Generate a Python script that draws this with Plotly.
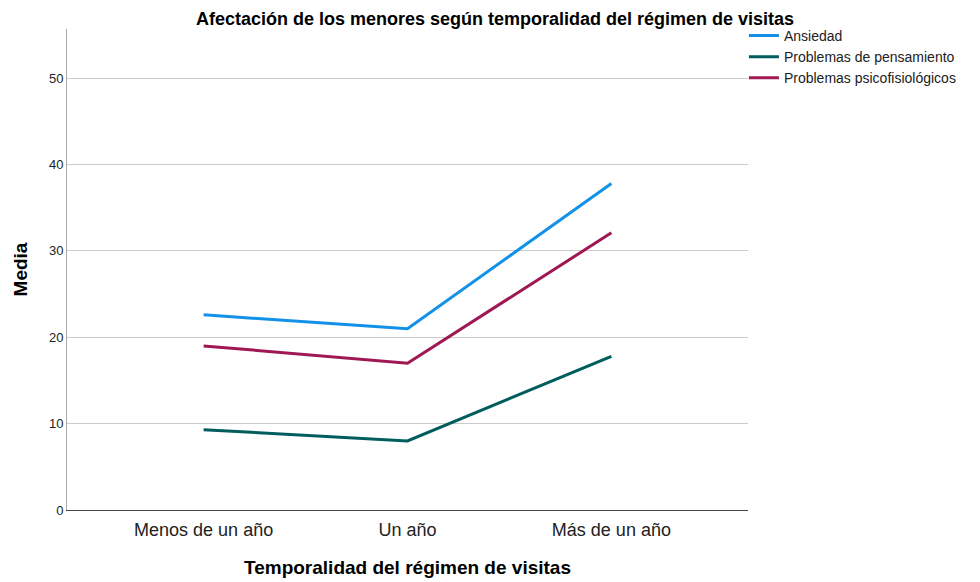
import plotly.graph_objects as go

categories = ["Menos de un año", "Un año", "Más de un año"]
ansiedad = [22.6, 21.0, 37.8]
pensamiento = [9.3, 8.0, 17.8]
psicofisiologicos = [19.0, 17.0, 32.1]
series_names = ["Ansiedad", "Problemas de pensamiento", "Problemas psicofisiológicos"]
series_colors = ["#1192e8", "#005d5d", "#9f1853"]
y_ticks = [0, 10, 20, 30, 40, 50]

FONT = "Liberation Sans, Arial, sans-serif"

fig = go.Figure()
for name, vals, col in zip(series_names, [ansiedad, pensamiento, psicofisiologicos], series_colors):
    fig.add_trace(go.Scatter(
        x=[0, 1, 2], y=vals, mode="lines", name=name,
        line=dict(color=col, width=3),
    ))

fig.update_layout(
    width=980, height=582,
    margin=dict(l=57, r=240, t=20, b=80),
    paper_bgcolor="white", plot_bgcolor="white",
    font=dict(family=FONT, color="#000000"),
    title=dict(text="<b>Afectación de los menores según temporalidad del régimen de visitas</b>",
               x=0.497, xanchor="center", y=0.982, yanchor="middle",
               font=dict(size=18, family=FONT, color="#000")),
    showlegend=True,
    legend=dict(x=0.994, y=1.019, xanchor="left", yanchor="top",
                font=dict(size=14, family=FONT, color="#222"),
                itemwidth=30, tracegroupgap=0, bgcolor="rgba(0,0,0,0)"),
)

fig.update_xaxes(
    range=[-0.67, 2.67], tickmode="array", tickvals=[0, 1, 2], ticktext=categories,
    showgrid=False, zeroline=False,
    showline=True, linecolor="#444", linewidth=1,
    ticks="", ticklabelstandoff=3, tickfont=dict(size=18, family=FONT, color="#222"),
    title=dict(text="<b>Temporalidad del régimen de visitas</b>", standoff=22,
               font=dict(size=19, family=FONT, color="#000")),
)
fig.update_yaxes(
    range=[0, 55.7], tickmode="array", tickvals=y_ticks,
    showgrid=True, gridcolor="#cccccc", gridwidth=1, zeroline=False,
    showline=True, linecolor="#aaaaaa", linewidth=1,
    ticks="", tickfont=dict(size=13, family=FONT, color="#222"),
    title=dict(text="<b>Media</b>", standoff=16,
               font=dict(size=19, family=FONT, color="#000")),
)

fig.write_html("out.html")
